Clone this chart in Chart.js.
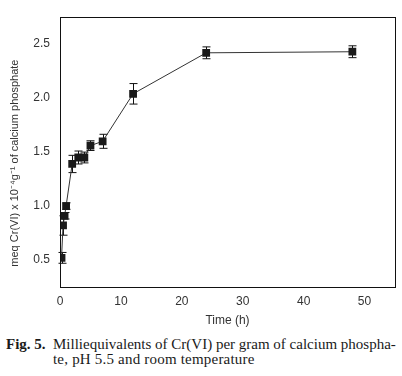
<!DOCTYPE html>
<html>
<head>
<meta charset="utf-8">
<script src="https://cdn.jsdelivr.net/npm/chart.js@4.4.1/dist/chart.umd.min.js"></script>
<style>
  body { margin: 0; background: #fff; width: 402px; height: 376px; overflow: hidden; position: relative; }
  #wrap { position: absolute; left: 0; top: 0; width: 402px; height: 330px; }
  .cap { position: absolute; font-family: "Liberation Serif", "Times New Roman", serif; font-size: 15px; color: #1a1a1a; white-space: nowrap; line-height: 16px; }
</style>
</head>
<body>
<div id="wrap"><canvas id="chart_fig5"></canvas></div>
<div class="cap" style="left:6px; top:336px;"><b>Fig. 5.</b></div>
<div class="cap" id="cap1" style="left:53px; top:336px;">Milliequivalents of Cr(VI) per gram of calcium phospha-</div>
<div class="cap" id="cap2" style="left:53px; top:351px; letter-spacing:0.2px;">te, pH 5.5 and room temperature</div>
<script>
// values
const timeH = [0.25, 0.5, 0.75, 1, 2, 3, 4, 5, 7, 12, 24, 48];
const meqCr = [0.52, 0.82, 0.91, 1.0, 1.39, 1.45, 1.45, 1.56, 1.6, 2.04, 2.42, 2.43];
const meqErr = [0.05, 0.09, 0.03, 0.03, 0.08, 0.06, 0.05, 0.045, 0.065, 0.095, 0.055, 0.055];
const xTicks = [0, 10, 20, 30, 40, 50];
const yTicks = [0.5, 1.0, 1.5, 2.0, 2.5];
const yTitle = "meq Cr(VI) x 10\u207B\u2074g\u207B\u00B9 of calcium phosphate";

let points = timeH.map((t, i) => ({ x: t, y: meqCr[i] }));

// error bars, frame round the plot and the y title (sits a bit low in the original)
const errorBars = {
  id: "errorBars",
  beforeDatasetsDraw(chart) {
    const ctx = chart.ctx;
    const xs = chart.scales.x;
    const ys = chart.scales.y;
    ctx.save();
    ctx.strokeStyle = "#111";
    ctx.lineWidth = 1;
    timeH.forEach((t, i) => {
      let px = Math.round(xs.getPixelForValue(t)) + 0.5;
      let top = ys.getPixelForValue(meqCr[i] + meqErr[i]);
      let bot = ys.getPixelForValue(meqCr[i] - meqErr[i]);
      ctx.beginPath();
      ctx.moveTo(px, top);
      ctx.lineTo(px, bot);
      ctx.moveTo(px - 4, top);
      ctx.lineTo(px + 4, top);
      ctx.moveTo(px - 4, bot);
      ctx.lineTo(px + 4, bot);
      ctx.stroke();
    });
    ctx.restore();
  },
  afterDraw(chart) {
    const a = chart.chartArea;
    const ctx = chart.ctx;
    ctx.save();
    ctx.strokeStyle = "#111";
    ctx.lineWidth = 1;
    ctx.strokeRect(Math.round(a.left) + 0.5, Math.round(a.top) + 0.5, Math.round(a.right - a.left), Math.round(a.bottom - a.top));
    ctx.translate(15, (a.top + a.bottom) / 2 + 11);
    ctx.rotate(-Math.PI / 2);
    ctx.fillStyle = "#333";
    ctx.font = "11px 'Liberation Sans', Arial, sans-serif";
    ctx.textAlign = "center";
    ctx.textBaseline = "middle";
    ctx.fillText(yTitle, 0, 0);
    ctx.restore();
  },
};

var ctx5 = document.getElementById("chart_fig5").getContext("2d");
var myChart5 = new Chart(ctx5, {
  type: "scatter",
  data: {
    datasets: [
      {
        data: points,
        showLine: true,
        borderColor: "#333",
        borderWidth: 1,
        pointStyle: "rect",
        pointRadius: 5.5,
        pointBackgroundColor: "#1a1a1a",
        pointBorderColor: "#1a1a1a",
        pointBorderWidth: 0,
      },
    ],
  },
  options: {
    animation: false,
    responsive: true,
    maintainAspectRatio: false,
    devicePixelRatio: 1,
    layout: {
      padding: { top: 5, right: 7, left: 0, bottom: 0 },
    },
    plugins: {
      legend: { display: false },
      tooltip: { enabled: false },
    },
    scales: {
      x: {
        type: "linear",
        min: 0,
        max: 55,
        afterBuildTicks: (s) => { s.ticks = xTicks.map((v) => ({ value: v })); },
        afterFit: (s) => { s.height = 43; },
        grid: { display: false, drawTicks: false },
        border: { display: false },
        ticks: {
          padding: 7,
          color: "#333",
          font: { family: "Liberation Sans, Arial, sans-serif", size: 12 },
        },
        title: {
          display: true,
          text: "Time (h)",
          color: "#333",
          padding: { top: 0, bottom: 2 },
          font: { family: "Liberation Sans, Arial, sans-serif", size: 12 },
        },
      },
      y: {
        type: "linear",
        min: 0.25,
        max: 2.75,
        afterBuildTicks: (s) => { s.ticks = yTicks.map((v) => ({ value: v })); },
        afterFit: (s) => { s.width = 60; },
        grid: { display: false, drawTicks: false },
        border: { display: false },
        ticks: {
          padding: 10,
          color: "#333",
          font: { family: "Liberation Sans, Arial, sans-serif", size: 12 },
          callback: (v) => Number(v).toFixed(1),
        },
      },
    },
  },
  plugins: [errorBars],
});
</script>
</body>
</html>
